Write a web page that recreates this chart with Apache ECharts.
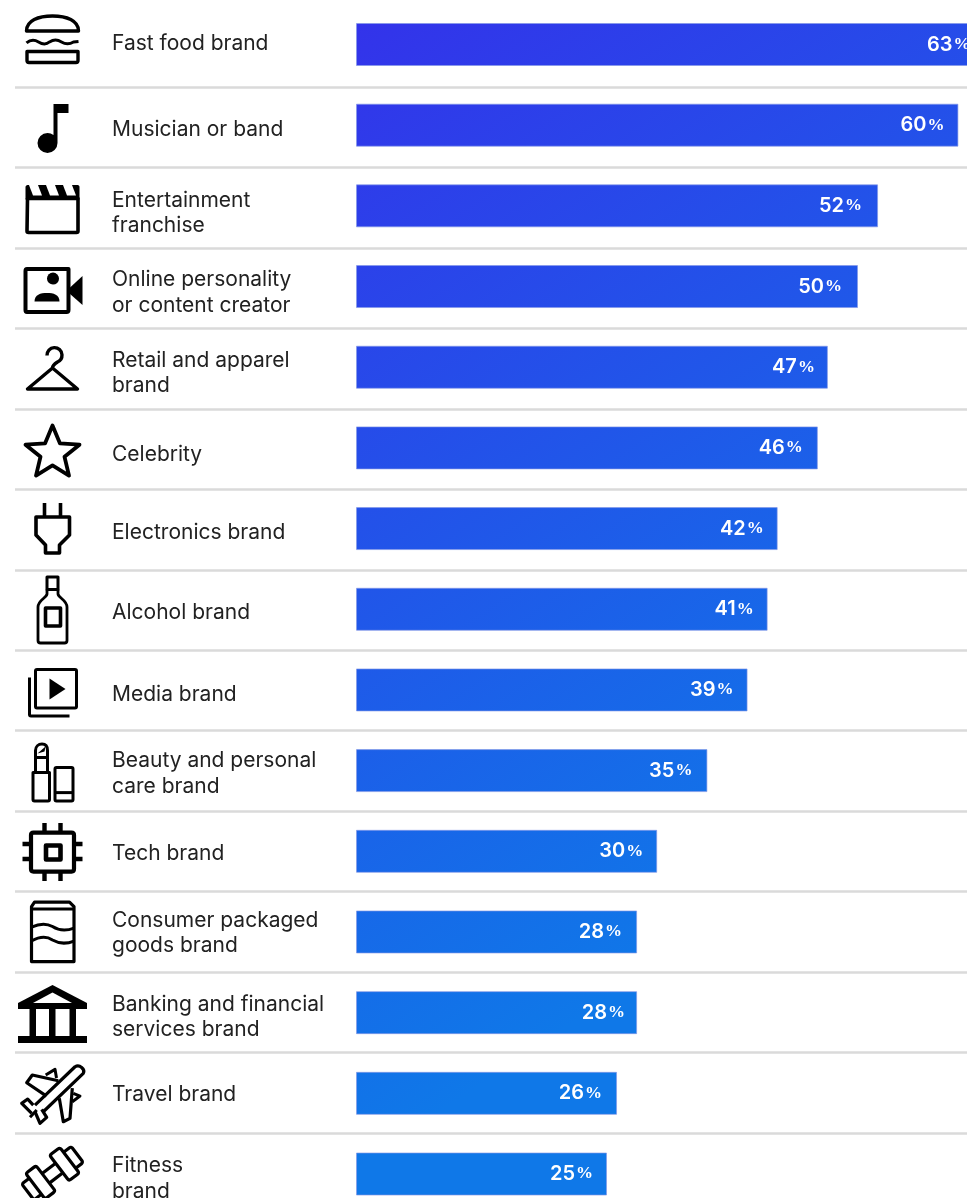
<!DOCTYPE html>
<html><head><meta charset="utf-8">
<style>html,body{margin:0;padding:0;background:#fff}#c{width:967px;height:1198px}</style>
<script src="https://cdn.jsdelivr.net/npm/echarts@6/dist/echarts.min.js"></script>
</head><body><div id="c"></div>
<script>
const categories = ["Fast food brand","Musician or band","Entertainment\nfranchise","Online personality\nor content creator","Retail and apparel\nbrand","Celebrity","Electronics brand","Alcohol brand","Media brand","Beauty and personal\ncare brand","Tech brand","Consumer packaged\ngoods brand","Banking and financial\nservices brand","Travel brand","Fitness\nbrand"];
const values = [63,60,52,50,47,46,42,41,39,35,30,28,28,26,25];
// layout nudges, px
const labelNudge = [-3,2,5.5,4.5,4.5,5.5,3,2.5,4,3,2,1.2,5,1.5,5.6];
const iconNudge = [-7.3,0.8,1.8,2.4,0.9,2,-0.5,0,2.1,1.7,0.7,0.2,1.8,3.3,0];
const valueInset = [18,14,16,16,13,15,14,14,14,15,14,15,12,15,14];

// icon artwork, local coordinates around the icon centre
const S = (d,w)=>({d,w:w||3});           // stroked black
const F = d=>({d,fill:'#000'});          // filled black
const W = d=>({d,fill:'#fff'});          // filled white
const icons = [
 [S('M-26 -8.5C-26 -19 -14 -23.5 0 -23.5C14 -23.5 26 -19 26 -8.5Z',3.4),
  S('M-26 3.5C-22 0 -18 0 -14 2.5C-10 5 -6 5 -3 2.5C1 0 5 0 9 2.5C13 5 17 5 21 2.5L26 2',3),
  S('M-25.5 12H25.5V21C25.5 22.5 24.5 23 23.5 23H-23.5C-24.5 23 -25.5 22.5 -25.5 21Z',3.4)],
 [F('M1 -24H16V-15H5V15A10 10 0 1 1 1 7Z')],
 [S('M-25 -11H25.5V21.5C25.5 22.5 25 23 24 23H-24C-25 23 -25.5 22.5 -25.5 21.5Z',3.6),
  F('M-25 -24.5H25C26.5 -24.5 27 -23.5 27 -22.5V-10H-27V-22.5C-27 -23.5 -26 -24.5 -25 -24.5Z'),
  W('M-23.5 -24.5H-14.5L-10.5 -14H-19.5Z'),W('M-6.5 -24.5H2.5L6.5 -14H-2.5Z'),W('M10.5 -24.5H19.5L23.5 -14H14.5Z')],
 [S('M-25.5 -21.5H16V19.5C16 20.5 15.5 21.5 14 21.5H-25.5C-26.5 21.5 -27 20.5 -27 19.5V-19.5C-27 -20.5 -26.5 -21.5 -25.5 -21.5Z',4),
  F('M17 -2.5L30 -14.5V14.5L17 3Z'),
  F('M-5.5 -12A6 6 0 1 1 -5.5 -11.9Z'),
  F('M-18 11C-18 4 -12 2.5 -5.5 2.5C1 2.5 7 4 7 11Z')],
 [S('M-5.5 -14A7.5 7.5 0 1 1 5 -7.5C1 -5 0 -3 0 -1.5L25 19.5H-25L0 -1.5',3.4)],
 [S('M0 -25.5L7.5 -7.6L27 -6.4L12 5.7L16.5 24.5L0 14.3L-16.5 24.5L-12 5.7L-27 -6.4L-7.5 -7.6Z',3.8)],
 [S('M-8 -26V-12M8 -26V-12',3.6),S('M-16.5 -12H17V6L7 16V24H-7V16L-16.5 6Z',3.6)],
 [S('M-5.5 -33H5.5V-20.5H-5.5Z',3),S('M-5.5 -20.5V-16C-6 -12 -14.5 -10 -14.5 -3V30.5C-14.5 32 -13.5 33 -12 33H12C13.5 33 14.5 32 14.5 30.5V-3C14.5 -10 6 -12 5.5 -16V-20.5',2.8),
  S('M-7 -2H8V16H-7Z',3.6)],
 [S('M-15.5 -23H22.5C23.5 -23 24 -22.5 24 -21.5V14C24 15 23.5 15.5 22.5 15.5H-15.5C-16.5 15.5 -17 15 -17 14V-21.5C-17 -22.5 -16.5 -23 -15.5 -23Z',3),
  S('M-23 -15V22C-23 23 -22.5 23.5 -21.5 23.5H17',3),
  F('M-3 -14V7L13 -3.5Z')],
 [S('M-19 0H-3V27C-3 28 -3.5 28.5 -4.5 28.5H-18C-19 28.5 -19.5 28 -19.5 27V0Z',3),
  S('M-17 0V-15H-5V0',3),S('M-17 -15V-22C-17 -26 -14 -28.5 -10.5 -28.5C-7 -28.5 -5 -26 -5 -22V-15',3),
  F('M-15 -19L-7 -26L-8 -21Z'),
  S('M4 -5H19C20 -5 20.5 -4.5 20.5 -3.5V27C20.5 28 20 28.5 19 28.5H4C3 28.5 2.5 28 2.5 27V-3.5C2.5 -4.5 3 -5 4 -5Z',3),
  S('M3 20H20',3)],
 [S('M-19 -19.5H19C20.5 -19.5 21.5 -18.5 21.5 -17V17C21.5 18.5 20.5 19.5 19 19.5H-19C-20.5 19.5 -21.5 18.5 -21.5 17V-17C-21.5 -18.5 -20.5 -19.5 -19 -19.5Z',4.2),
  S('M-6.5 -6.5H8V7.5H-6.5Z',4.6),
  S('M-8 -29V-20M8 -29V-20M-8 20V29M8 20V29M-30 -8H-21M-30 7H-21M21 -8H30M21 7H30',4.4)],
 [S('M-18 -30H17L21.5 -25.5V29.5H-21V-25.5Z',3.2),S('M-21 -23H21.5',3),
  S('M-21 -5C-12 -9 -6 -9 0 -5.5C7 -1 14 -1 21.5 -4M-21 9C-12 4 -6 4 0 8C7 12 14 12 21.5 9',3)],
 [F('M0 -29L34.5 -11V-5H-34.5V-11Z'),W('M0 -21.5L19.5 -11H-19.5Z'),
  F('M-23 -5H-16.5V22H-23ZM-3.5 -5H3V22H-3.5ZM17 -5H23.5V22H17ZM-34.5 22H34.5V29H-34.5Z')],
 [S('M-17.5 9L22.5 -29.3C27 -32 33 -27 30.8 -22.7L-9.2 15.7',3.2),
  S('M-6 0L-25.8 -13.3L-20.2 -21L5.8 -15.3',3.2),
  S('M-6.8 -21L2.5 -26.7L4 -18',3),
  S('M6.8 2.3L10.8 25.7L17.5 22.3L19.8 -8',3.2),
  S('M20.8 -2.7L27.5 0L19.8 5.7',3),
  S('M-19.2 9L-24.8 3L-30.8 7.3L-20.8 17.3',3.2),
  S('M-17.5 15.7L-12.5 27.3L-5.8 21.3L-10.8 13.3',3.2),
  S('M-22.5 21.3L-15.8 14',3)],
 [{rot:0.65,parts:[S('M-8.5 -6H8.5M-8.5 6H8.5',3.2),
   S('M8.5 -13.5C8.5 -15 9.5 -16 11 -16H19C20.5 -16 21.5 -15 21.5 -13.5V13.5C21.5 15 20.5 16 19 16H11C9.5 16 8.5 15 8.5 13.5Z',3.2),
   S('M21.5 -10H29C30 -10 31 -9 31 -8V8C31 9 30 10 29 10H21.5',3.2),
   S('M-8.5 -13.5C-8.5 -15 -9.5 -16 -11 -16H-19C-20.5 -16 -21.5 -15 -21.5 -13.5V13.5C-21.5 15 -20.5 16 -19 16H-11C-9.5 16 -8.5 15 -8.5 13.5Z',3.2),
   S('M-21.5 -10H-29C-30 -10 -31 -9 -31 -8V8C-31 9 -30 10 -29 10H-21.5',3.2)]}]
];

const pathEl = (p,rot)=>({type:'path',rotation:rot||0,silent:true,
  shape:{pathData:p.d},
  style:p.fill?{fill:p.fill,stroke:null}:{fill:'none',stroke:'#000',lineWidth:p.w,lineJoin:'round',lineCap:'butt'}});
const iconChildren = i=>{
  const out=[];
  icons[i].forEach(p=>{ if(p.parts) p.parts.forEach(q=>out.push(pathEl(q,p.rot))); else out.push(pathEl(p)); });
  return out;
};

const chart = echarts.init(document.getElementById('c'),null,{renderer:'canvas',width:967,height:1198});
const hiddenAxis = {show:false};
chart.setOption({
  animation:false,
  backgroundColor:'#fff',
  grid:[
    {left:356,top:4.16,width:1004,height:1210.2,outerBoundsMode:'none'},
    {left:15,top:6.54,width:952,height:1206.9,outerBoundsMode:'none'}
  ],
  xAxis:[
    {type:'value',gridIndex:0,min:0,max:100,...hiddenAxis},
    {type:'value',gridIndex:1,min:0,max:100,...hiddenAxis}
  ],
  yAxis:[
    {type:'category',gridIndex:0,inverse:true,data:categories,...hiddenAxis},
    {type:'category',gridIndex:1,inverse:true,data:categories,
      axisLine:{show:false},axisTick:{show:false},axisLabel:{show:false},
      splitLine:{show:true,showMinLine:false,lineStyle:{color:'#dadada',width:2.6}},z:1}
  ],
  series:[
    {type:'bar',xAxisIndex:0,yAxisIndex:0,barWidth:43,z:3,silent:true,
     data:values.map((v,i)=>({value:v,label:{distance:valueInset[i]}})),
     itemStyle:{color:new echarts.graphic.LinearGradient(356,23,886,813,[
        {offset:0,color:'#3333ea'},{offset:1,color:'#0f78e8'}],true),
        borderColor:'rgba(130,150,230,0.65)',borderWidth:1},
     label:{show:true,position:'insideRight',formatter:p=>'{n|'+p.value+'}{p|%}',color:'#fff',
        rich:{n:{fontFamily:'Inter',fontWeight:600,fontSize:20,color:'#fff'},
              p:{fontFamily:'Liberation Sans Narrow',fontWeight:700,fontSize:17,color:'#fff',padding:[0,0,0,1]}}}},
    {type:'custom',xAxisIndex:1,yAxisIndex:1,silent:true,z:4,clip:false,
     data:categories.map((c,i)=>[0,i]),
     encode:{x:0,y:1},
     renderItem:(params,api)=>{
       const i=api.value(1), y=api.coord([0,i])[1];
       return {type:'group',children:[
         {type:'group',x:52.5,y:y+iconNudge[i],children:iconChildren(i)},
         {type:'text',x:112,y:y+labelNudge[i],silent:true,style:{
            text:categories[i],fill:'#222',font:'400 21px Inter',
            textAlign:'left',textVerticalAlign:'middle',lineHeight:25.5}}
       ]};
     }}
  ]
});
</script></body></html>
